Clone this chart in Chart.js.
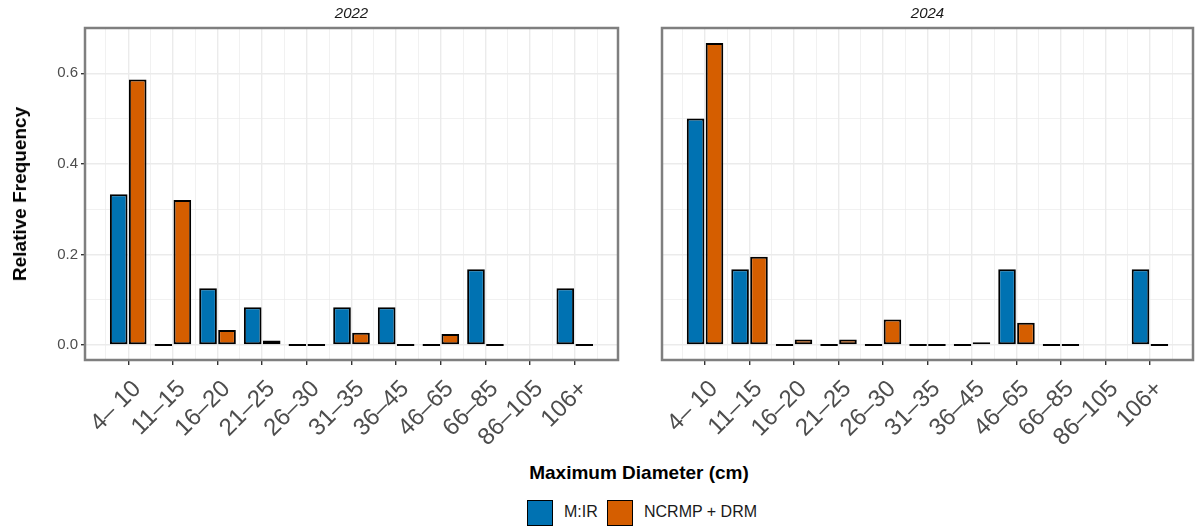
<!DOCTYPE html>
<html>
<head>
<meta charset="utf-8">
<script src="https://cdn.jsdelivr.net/npm/chart.js@4.4.1/dist/chart.umd.min.js"></script>
<style>
  html, body { margin: 0; padding: 0; background: #fff; }
  body { width: 1195px; height: 527px; position: relative; overflow: hidden;
         font-family: 'Liberation Sans', Arial, sans-serif; color: #000; }
  .box { position: absolute; top: 0; height: 460px; }
  .strip { position: absolute; top: 4px; font-size: 15px; font-style: italic; color: #1a1a1a; text-align: center; }
  .title { position: absolute; font-weight: bold; font-size: 19px; white-space: nowrap; transform: translate(-50%, -50%); }
  .key { position: absolute; top: 500px; width: 24px; height: 24px; border: 1.5px solid #000; }
  .keylab { position: absolute; top: 503px; font-size: 16px; color: #1a1a1a; white-space: nowrap; }
</style>
</head>
<body>
<div class="box" style="left:0;width:625px"><canvas id="p2022" width="625" height="460"></canvas></div>
<div class="box" style="left:625px;width:570px"><canvas id="p2024" width="570" height="460"></canvas></div>

<div class="strip" style="left:85px;width:533px">2022</div>
<div class="strip" style="left:662px;width:531px">2024</div>

<div class="title" style="left:20px;top:194px;transform:translate(-50%,-50%) rotate(-90deg)">Relative Frequency</div>
<div class="title" style="left:639px;top:473px">Maximum Diameter (cm)</div>

<div class="key" style="left:527px;background:#0072B2"></div>
<div class="keylab" style="left:564px">M:IR</div>
<div class="key" style="left:607px;background:#D55E00"></div>
<div class="keylab" style="left:644px">NCRMP + DRM</div>

<script>
// size classes (x) and relative frequencies
const sizeClasses = ['4– 10', '11–15', '16–20', '21–25', '26–30', '31–35', '36–45', '46–65', '66–85', '86–105', '106+'];
const mir2022   = [0.333, 0, 0.125, 0.083, 0, 0.083, 0.083, 0, 0.167, null, 0.125];
const ncrmp2022 = [0.586, 0.320, 0.033, 0.010, 0, 0.027, 0, 0.024, 0, null, 0];
const mir2024   = [0.5, 0.167, 0, 0, 0, 0, 0, 0.167, 0, null, 0.167];
const ncrmp2024 = [0.667, 0.195, 0.012, 0.012, 0.056, 0, 0.006, 0.049, 0, null, 0];
const yTicks = [0, 0.1, 0.2, 0.3, 0.4, 0.5, 0.6];

const BLUE = '#0072B2', ORANGE = '#D55E00';
const GRID = '#ebebeb';
const X_MIN = -0.9675, X_MAX = sizeClasses.length - 1 + 0.9675;

Chart.defaults.font.family = "'Liberation Sans', Arial, sans-serif";

const isMajor = (v) => Math.round(v * 10) % 2 === 0;
const toPoints = (arr) => arr.map((v, i) => ({ x: i, y: v }));

// gray frame around each facet panel
const panelBorder = {
    id: 'panelBorder',
    afterDraw(chart) {
        const { ctx, chartArea: a } = chart;
        ctx.save();
        ctx.strokeStyle = '#7f7f7f';
        ctx.lineWidth = 2.5;
        ctx.strokeRect(a.left, a.top, a.right - a.left, a.bottom - a.top);
        ctx.restore();
    },
};

function makePanel(id, mir, ncrmp, first) {
    new Chart(document.getElementById(id), {
        type: 'bar',
        data: {
            datasets: [
                { label: 'M:IR', data: toPoints(mir), backgroundColor: BLUE },
                { label: 'NCRMP + DRM', data: toPoints(ncrmp), backgroundColor: ORANGE },
            ],
        },
        options: {
            animation: false,
            responsive: false,
            layout: { padding: { top: 28, right: first ? 7 : 2, left: 0, bottom: 0 } },
            plugins: { legend: { display: false }, tooltip: { enabled: false } },
            datasets: {
                bar: {
                    categoryPercentage: 0.85, barPercentage: 0.93,
                    minBarLength: 2, borderWidth: 2, borderColor: '#000', borderSkipped: false,
                },
            },
            scales: {
                x: {
                    type: 'linear', min: X_MIN, max: X_MAX, offset: false,
                    afterBuildTicks: (s) => { s.ticks = sizeClasses.map((_, i) => ({ value: i })); },
                    afterFit: (s) => { s.height = 100; },
                    ticks: {
                        callback: (v) => sizeClasses[v], autoSkip: false,
                        minRotation: 45, maxRotation: 45, padding: 10, labelOffset: 9,
                        font: { size: 24 }, color: '#4d4d4d',
                    },
                    grid: { offset: false, color: GRID, lineWidth: 1.4, tickColor: '#333', tickLength: 5 },
                    border: { display: false },
                },
                x2: {
                    type: 'linear', position: 'bottom', min: X_MIN, max: X_MAX, offset: false,
                    afterBuildTicks: (s) => { s.ticks = sizeClasses.concat(['']).map((_, i) => ({ value: i - 0.5 })); },
                    afterFit: (s) => { s.height = 0; },
                    ticks: { display: false },
                    grid: { offset: false, color: GRID, lineWidth: 0.7, drawTicks: false },
                    border: { display: false },
                },
                y: {
                    min: -0.03333, max: 0.7,
                    afterBuildTicks: (s) => { s.ticks = yTicks.map((v) => ({ value: v })); },
                    afterFit: (s) => { s.width = first ? 85 : 37; },
                    ticks: {
                        display: first,
                        callback: (v) => isMajor(v) ? v.toFixed(1) : '',
                        font: { size: 15 }, color: '#4d4d4d', padding: 3,
                    },
                    grid: {
                        color: GRID,
                        lineWidth: (c) => isMajor(c.tick.value) ? 1.4 : 0.7,
                        drawTicks: first, tickLength: 4,
                        tickColor: (c) => isMajor(c.tick.value) ? '#333' : 'rgba(0,0,0,0)',
                    },
                    border: { display: false },
                },
            },
        },
        plugins: [panelBorder],
    });
}

makePanel('p2022', mir2022, ncrmp2022, true);
makePanel('p2024', mir2024, ncrmp2024, false);
</script>
</body>
</html>
